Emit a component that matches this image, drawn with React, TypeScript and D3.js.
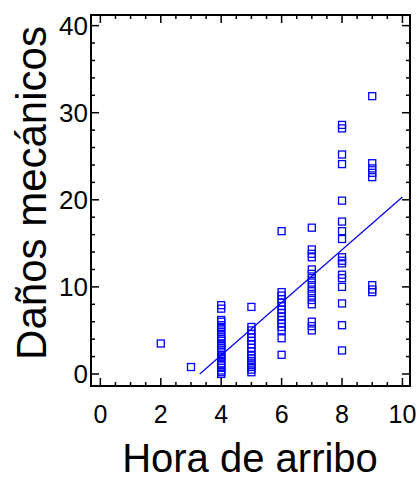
import React, { useEffect, useRef } from 'react'
import * as d3 from 'd3'

// Hora de arribo (x) vs daños mecánicos (y)
const hours4 = [0, 0.2, 0.4, 0.7, 1, 1.2, 1.5, 1.8, 2, 2.2, 2.5, 2.8, 3, 3.3, 3.5, 3.8, 4, 4.3, 4.6, 5, 5.3, 5.6, 6, 6.2, 7.5, 7.9]
const hours5 = [7.7, 5.4, 5.0, 4.6, 4.2, 3.8, 3.4, 3.0, 2.6, 2.1, 1.8, 1.5, 1.1, 0.8, 0.5, 0.2]
const hours6 = [16.4, 9.4, 9.0, 8.6, 8.2, 7.8, 7.4, 7.0, 6.6, 6.2, 5.8, 5.4, 5.0, 4.1, 2.2]
const hours7 = [16.8, 14.3, 13.8, 13.4, 12.0, 11.5, 11.0, 10.5, 10.0, 9.5, 9.0, 8.5, 8.0, 6.0, 5.5, 5.0]
const hours8 = [28.6, 28.2, 25.2, 24.1, 19.9, 17.5, 16.4, 15.5, 13.4, 13.0, 12.7, 11.4, 11.0, 10.0, 8.1, 5.6, 2.7]
const hours9 = [31.9, 24.2, 23.6, 23.1, 22.6, 10.2, 9.7, 9.4]
const others = [[2, 3.5], [3, 0.8]]

// recta ajustada: y = a + b*x
const fitCoef = [-9.97, 3.03]
const fitRange = [3.29, 10]

const xTicks = [0, 2, 4, 6, 8, 10]
const yTicks = [0, 10, 20, 30, 40]

const W = 420
const H = 481
const frame = { left: 91, right: 410, top: 15, bottom: 386 }
const font = '"Liberation Sans", Arial, sans-serif'
const blue = '#0000ff'

export default function App() {
  const ref = useRef<SVGSVGElement>(null)

  useEffect(() => {
    const svg = d3.select(ref.current)
    svg.selectAll('*').remove()

    const x = d3.scaleLinear().domain([-0.31, 10.25]).range([frame.left, frame.right])
    const y = d3.scaleLinear().domain([-1.38, 41.22]).range([frame.bottom, frame.top])

    const points: number[][] = [
      ...others,
      ...hours4.map(v => [4, v]),
      ...hours5.map(v => [5, v]),
      ...hours6.map(v => [6, v]),
      ...hours7.map(v => [7, v]),
      ...hours8.map(v => [8, v]),
      ...hours9.map(v => [9, v]),
    ]

    // marcas menores y mayores
    const xMinor = d3.range(0, 10.01, 0.5)
    const yMinor = d3.range(0, 40.01, 2)
    const tickG = svg.append('g').attr('stroke', '#000').attr('stroke-width', 1.5)
    xMinor.forEach(t => {
      const len = t % 2 === 0 ? 8 : 4
      tickG.append('line').attr('x1', x(t)).attr('x2', x(t)).attr('y1', frame.bottom).attr('y2', frame.bottom - len)
      tickG.append('line').attr('x1', x(t)).attr('x2', x(t)).attr('y1', frame.top).attr('y2', frame.top + len)
    })
    yMinor.forEach(t => {
      const len = t % 10 === 0 ? 8 : 4
      tickG.append('line').attr('y1', y(t)).attr('y2', y(t)).attr('x1', frame.left).attr('x2', frame.left + len)
      tickG.append('line').attr('y1', y(t)).attr('y2', y(t)).attr('x1', frame.right).attr('x2', frame.right - len)
    })

    svg.append('rect')
      .attr('x', frame.left).attr('y', frame.top)
      .attr('width', frame.right - frame.left).attr('height', frame.bottom - frame.top)
      .attr('fill', 'none').attr('stroke', '#000').attr('stroke-width', 2)

    svg.append('g').selectAll('text').data(xTicks).join('text')
      .attr('x', d => x(d)).attr('y', 423)
      .attr('text-anchor', 'middle')
      .attr('font-family', font).attr('font-size', 25)
      .text(d => d)

    svg.append('g').selectAll('text').data(yTicks).join('text')
      .attr('x', 88).attr('y', d => y(d) + 9)
      .attr('text-anchor', 'end')
      .attr('font-family', font).attr('font-size', 26)
      .text(d => d)

    // puntos
    const s = 7
    svg.append('g').selectAll('rect').data(points).join('rect')
      .attr('x', d => x(d[0]) - s / 2).attr('y', d => y(d[1]) - s / 2)
      .attr('width', s).attr('height', s)
      .attr('fill', 'none').attr('stroke', blue).attr('stroke-width', 1.3)

    const line = d3.line<number>()
      .x(d => x(d))
      .y(d => y(fitCoef[0] + fitCoef[1] * d))
    svg.append('path')
      .attr('d', line(fitRange))
      .attr('fill', 'none').attr('stroke', blue).attr('stroke-width', 1.2)

    svg.append('text')
      .attr('x', 250).attr('y', 472)
      .attr('text-anchor', 'middle')
      .attr('font-family', font).attr('font-size', 40)
      .text('Hora de arribo')

    svg.append('text')
      .attr('transform', `translate(46, 193) rotate(-90)`)
      .attr('text-anchor', 'middle')
      .attr('font-family', font).attr('font-size', 42)
      .text('Daños mecánicos')
  }, [])

  return (
    <svg ref={ref} width={W} height={H}
      style={{ position: 'absolute', left: 0, top: 0, background: '#fff' }} />
  )
}
